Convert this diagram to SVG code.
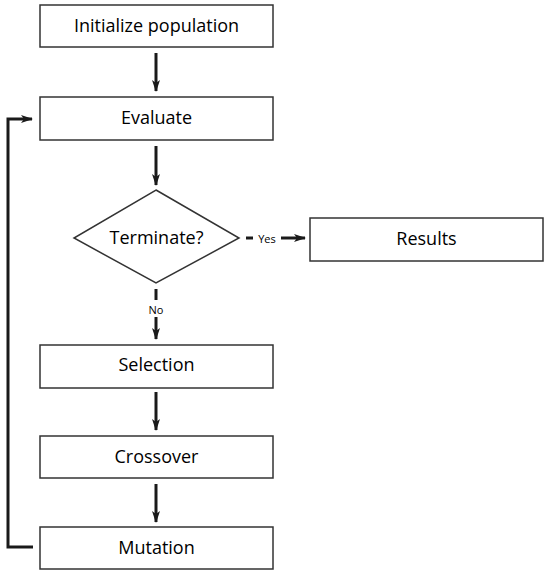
<svg xmlns="http://www.w3.org/2000/svg" width="550" height="576" viewBox="0 0 550 576">
<style>
.box{fill:#fff;stroke:#333;stroke-width:1.5}
.t{font-family:"Open Sans","Liberation Sans",sans-serif;font-size:18px;fill:#000;text-anchor:middle;dominant-baseline:central}
.s{font-family:"Open Sans","Liberation Sans",sans-serif;font-size:11px;fill:#000;text-anchor:middle;dominant-baseline:central}
.c{fill:none;stroke:#1a1a1a;stroke-width:3}
</style>
<defs>
<marker id="ah" viewBox="0 0 12 8" refX="11" refY="4" markerWidth="12" markerHeight="8" markerUnits="userSpaceOnUse" orient="auto">
<path d="M0,0 L12,4 L0,8 L3,4 Z" fill="#1a1a1a"/>
</marker>
</defs>
<rect width="550" height="576" fill="#fff"/>
<g id="connectors">
<line class="c" x1="156" y1="53" x2="156" y2="91" marker-end="url(#ah)"/>
<line class="c" x1="156" y1="146" x2="156" y2="185" marker-end="url(#ah)"/>
<line class="c" x1="246" y1="238" x2="253" y2="238"/>
<text class="s" x="267" y="238">Yes</text>
<line class="c" x1="281" y1="238" x2="305" y2="238" marker-end="url(#ah)"/>
<line class="c" x1="156" y1="289" x2="156" y2="300"/>
<text class="s" x="156" y="309">No</text>
<line class="c" x1="156" y1="317" x2="156" y2="339" marker-end="url(#ah)"/>
<line class="c" x1="156" y1="392" x2="156" y2="430" marker-end="url(#ah)"/>
<line class="c" x1="156" y1="484" x2="156" y2="522" marker-end="url(#ah)"/>
<polyline class="c" points="33,547 8,547 8,119 32,119" marker-end="url(#ah)"/>
</g>
<g id="init"><rect class="box" x="40" y="5" width="233" height="42"/><text class="t" x="156.5" y="25">Initialize population</text></g>
<g id="evaluate"><rect class="box" x="40" y="97" width="233" height="43"/><text class="t" x="156.5" y="117">Evaluate</text></g>
<g id="terminate"><polygon class="box" points="156,190 239,238 156,283 74,238"/><text class="t" x="156.5" y="237">Terminate?</text></g>
<g id="results"><rect class="box" x="310" y="218" width="233" height="43"/><text class="t" x="426.5" y="238">Results</text></g>
<g id="selection"><rect class="box" x="40" y="345" width="233" height="43"/><text class="t" x="156.5" y="364">Selection</text></g>
<g id="crossover"><rect class="box" x="40" y="436" width="233" height="42"/><text class="t" x="156.5" y="456">Crossover</text></g>
<g id="mutation"><rect class="box" x="40" y="527" width="233" height="42"/><text class="t" x="156.5" y="547">Mutation</text></g>
</svg>
